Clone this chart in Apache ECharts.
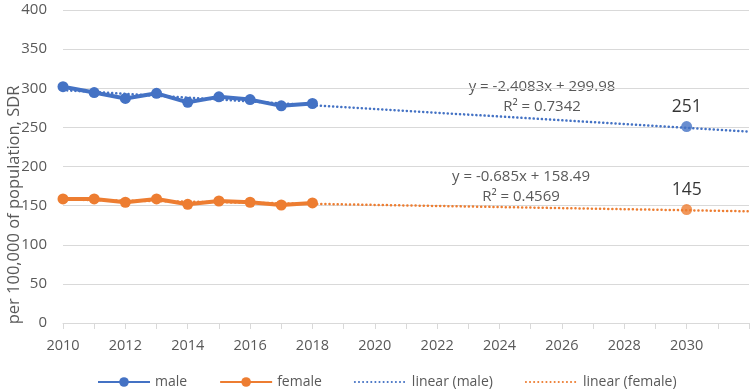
<!DOCTYPE html>
<html><head><meta charset="utf-8">
<script src="https://cdn.jsdelivr.net/npm/echarts@6/dist/echarts.min.js"></script>
<style>html,body{margin:0;padding:0;background:#fff}#c{width:752px;height:392px}</style>
</head><body><div id="c"></div>
<script>
const years = [2010, 2011, 2012, 2013, 2014, 2015, 2016, 2017, 2018];
const male = [302, 294.5, 287, 293.5, 282, 289, 285.5, 277.5, 280.5];
const female = [158.5, 158.5, 154.3, 158.5, 151.7, 155.9, 154.3, 150.8, 153.4];
const forecastYear = [2030];
const maleForecast = [251];
const femaleForecast = [145];
const maleTrend = [[2010, 297.6], [2032, 244.6]];
const femaleTrend = [[2010, 157.8], [2032, 142.7]];
const maleEq = ['y = -2.4083x + 299.98', 'R² = 0.7342'];
const femaleEq = ['y = -0.685x + 158.49', 'R² = 0.4569'];
const yTicks = [0, 50, 100, 150, 200, 250, 300, 350, 400];
const yTitle = 'per 100,000 of population, SDR';

const BLUE = '#4472C4', ORANGE = '#ED7D31', GREY = '#595959';
const FONT = 'Open Sans';
const chart = echarts.init(document.getElementById('c'));
const pair = (xs, ys) => xs.map((x, i) => [x, ys[i]]);
const dotted = c => ({ color: c, width: 2.5, type: [0.1, 4], cap: 'round' });
const f = s => s + 'px "' + FONT + '"';

chart.setOption({
  animation: false,
  textStyle: { fontFamily: FONT },
  grid: { left: 63, right: 3, top: 10, bottom: 69, containLabel: false, outerBoundsMode: 'none' },
  xAxis: {
    type: 'value', min: 2010, max: 2032, interval: 1,
    axisLine: { show: true, lineStyle: { color: '#D9D9D9', width: 1 } },
    axisTick: { show: true, length: 6, lineStyle: { color: '#D9D9D9' } },
    splitLine: { show: false },
    axisLabel: { color: GREY, fontSize: 14.5, margin: 15, fontFamily: FONT,
      formatter: v => (v % 2 === 0 && v < 2032) ? String(v) : '' }
  },
  yAxis: {
    type: 'value', min: yTicks[0], max: yTicks[yTicks.length - 1], interval: 50,
    axisLine: { show: false }, axisTick: { show: false },
    splitLine: { lineStyle: { color: '#D9D9D9', width: 1 } },
    axisLabel: { color: GREY, fontSize: 15, margin: 16, fontFamily: FONT }
  },
  legend: {
    top: 370, left: 92, itemWidth: 52, itemHeight: 12, itemGap: 32,
    textStyle: { color: GREY, fontSize: 14, fontFamily: FONT },
    data: ['male', 'female',
      { name: 'linear (male)', itemStyle: { opacity: 0 } },
      { name: 'linear (female)', itemStyle: { opacity: 0 } }]
  },
  series: [
    { name: 'linear (male)', type: 'line', data: maleTrend, symbol: 'none', lineStyle: dotted(BLUE), itemStyle: { color: BLUE }, z: 1 },
    { name: 'linear (female)', type: 'line', data: femaleTrend, symbol: 'none', lineStyle: dotted(ORANGE), itemStyle: { color: ORANGE }, z: 1 },
    { name: 'male', type: 'line', data: pair(years, male), symbol: 'circle', symbolSize: 11,
      lineStyle: { color: BLUE, width: 4 }, itemStyle: { color: BLUE }, z: 3 },
    { name: 'female', type: 'line', data: pair(years, female), symbol: 'circle', symbolSize: 11,
      lineStyle: { color: ORANGE, width: 4 }, itemStyle: { color: ORANGE }, z: 3 },
    { name: 'male 2030', type: 'scatter', data: pair(forecastYear, maleForecast), symbolSize: 11,
      itemStyle: { color: BLUE }, z: 4,
      label: { show: true, position: 'top', distance: 5, color: '#000', fontSize: 17.5, fontFamily: FONT } },
    { name: 'female 2030', type: 'scatter', data: pair(forecastYear, femaleForecast), symbolSize: 11,
      itemStyle: { color: ORANGE }, z: 4,
      label: { show: true, position: 'top', distance: 5, color: '#000', fontSize: 17.5, fontFamily: FONT } }
  ],
  graphic: [
    { type: 'text', x: 14, y: 205, rotation: Math.PI / 2, style: { text: yTitle, fill: GREY, font: f(16.5), align: 'center', verticalAlign: 'middle' } },
    { type: 'text', x: 542, y: 87, style: { text: maleEq[0], fill: GREY, font: f(15), align: 'center', verticalAlign: 'middle' } },
    { type: 'text', x: 542, y: 107, style: { text: maleEq[1], fill: GREY, font: f(15), align: 'center', verticalAlign: 'middle' } },
    { type: 'text', x: 521, y: 177, style: { text: femaleEq[0], fill: GREY, font: f(15), align: 'center', verticalAlign: 'middle' } },
    { type: 'text', x: 521, y: 197, style: { text: femaleEq[1], fill: GREY, font: f(15), align: 'center', verticalAlign: 'middle' } }
  ]
});
</script></body></html>
